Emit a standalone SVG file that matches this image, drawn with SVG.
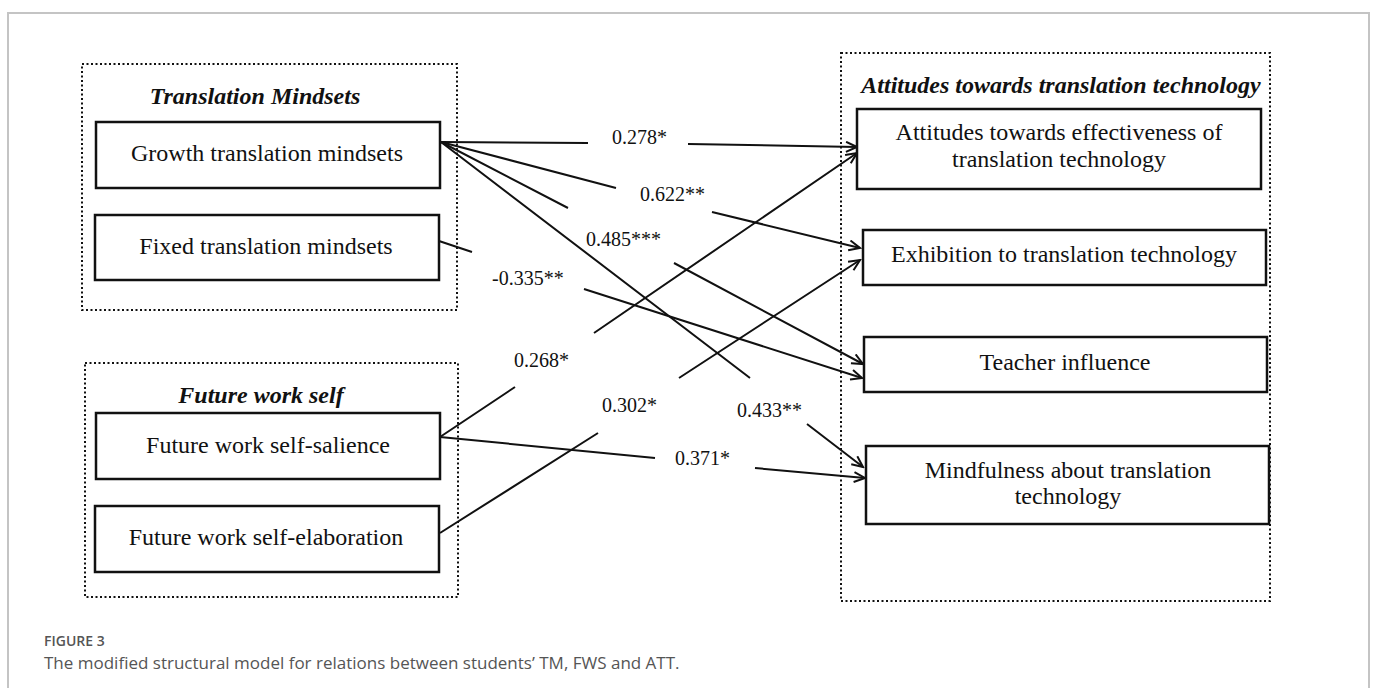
<svg xmlns="http://www.w3.org/2000/svg" width="1375" height="688" viewBox="0 0 1375 688">
<style>
.frame{fill:none;stroke:#c4c4c4;stroke-width:2}
.grp{fill:none;stroke:#111;stroke-width:2;stroke-dasharray:2 2.5}
.box{fill:#fff;stroke:#111;stroke-width:2.5}
.t{font-family:"Liberation Serif","Times New Roman",serif;font-size:24px;fill:#111;text-anchor:middle}
.ti{font-family:"Liberation Serif","Times New Roman",serif;font-size:24px;font-weight:bold;font-style:italic;fill:#111;text-anchor:middle}
.lab{font-family:"Liberation Serif","Times New Roman",serif;font-size:20px;fill:#111}
.con{fill:none;stroke:#111;stroke-width:2;marker-end:url(#arr)}
.figno{font-family:"Open Sans","Noto Sans",sans-serif;font-size:14px;font-weight:600;fill:#555}
.cap{font-family:"Open Sans","Noto Sans",sans-serif;font-size:17px;fill:#555}
</style>
<defs>
<marker id="arr" markerUnits="userSpaceOnUse" markerWidth="14" markerHeight="14" refX="12" refY="6" orient="auto">
<path d="M1,1 L12,6 L1,11" fill="none" stroke="#111" stroke-width="2"/>
</marker>
</defs>
<rect width="1375" height="688" fill="#fff"/>
<path class="frame" d="M8,688 L8,13 L1369,13 L1369,688"/>

<g id="group-translation-mindsets">
<rect class="grp" x="82" y="64" width="375" height="246"/>
<text class="ti" x="255" y="104">Translation Mindsets</text>
</g>
<g id="group-future-work-self">
<rect class="grp" x="85" y="363" width="373" height="234"/>
<text class="ti" x="261" y="403">Future work self</text>
</g>
<g id="group-attitudes">
<rect class="grp" x="841" y="53" width="429" height="548"/>
<text class="ti" x="1061" y="93">Attitudes towards translation technology</text>
</g>

<g id="connectors">
<path class="con" d="M441,142 L588,143 M688,144 L857,147"/>
<path class="con" d="M441,142 L616,188 M712,212 L860,248"/>
<path class="con" d="M441,142 L568,208 M674,263 L863,364"/>
<path class="con" d="M441,142 L750,378 M807,424 L863,467"/>
<path class="con" d="M439,241 L472,252 M584,289 L862,378"/>
<path class="con" d="M440,437 L515,387 M594,333 L857,153"/>
<path class="con" d="M440,533 L598,433 M679,378 L860,260"/>
<path class="con" d="M440,437 L655,458 M755,468 L865,478"/>
</g>
<g id="labels">
<text class="lab" x="612" y="144">0.278*</text>
<text class="lab" x="640" y="201">0.622**</text>
<text class="lab" x="586" y="246">0.485***</text>
<text class="lab" x="492" y="285">-0.335**</text>
<text class="lab" x="514" y="367">0.268*</text>
<text class="lab" x="602" y="412">0.302*</text>
<text class="lab" x="737" y="417">0.433**</text>
<text class="lab" x="675" y="465">0.371*</text>
</g>

<g id="node-growth">
<rect class="box" x="96" y="122" width="344" height="66"/>
<text class="t" x="267" y="161">Growth translation mindsets</text>
</g>
<g id="node-fixed">
<rect class="box" x="95" y="215" width="344" height="65"/>
<text class="t" x="266" y="254">Fixed translation mindsets</text>
</g>
<g id="node-salience">
<rect class="box" x="96" y="413" width="344" height="66"/>
<text class="t" x="268" y="453">Future work self-salience</text>
</g>
<g id="node-elaboration">
<rect class="box" x="95" y="506" width="344" height="66"/>
<text class="t" x="266" y="545">Future work self-elaboration</text>
</g>
<g id="node-effectiveness">
<rect class="box" x="857" y="109" width="404" height="80"/>
<text class="t" x="1059" y="140">Attitudes towards effectiveness of</text>
<text class="t" x="1059" y="167">translation technology</text>
</g>
<g id="node-exhibition">
<rect class="box" x="863" y="230" width="403" height="55"/>
<text class="t" x="1064" y="262">Exhibition to translation technology</text>
</g>
<g id="node-teacher">
<rect class="box" x="864" y="337" width="403" height="55"/>
<text class="t" x="1065" y="370">Teacher influence</text>
</g>
<g id="node-mindfulness">
<rect class="box" x="866" y="446" width="403" height="78"/>
<text class="t" x="1068" y="478">Mindfulness about translation</text>
<text class="t" x="1068" y="504">technology</text>
</g>

<text class="figno" x="44" y="646">FIGURE 3</text>
<text class="cap" x="44" y="669">The modified structural model for relations between students’ TM, FWS and ATT.</text>
</svg>
